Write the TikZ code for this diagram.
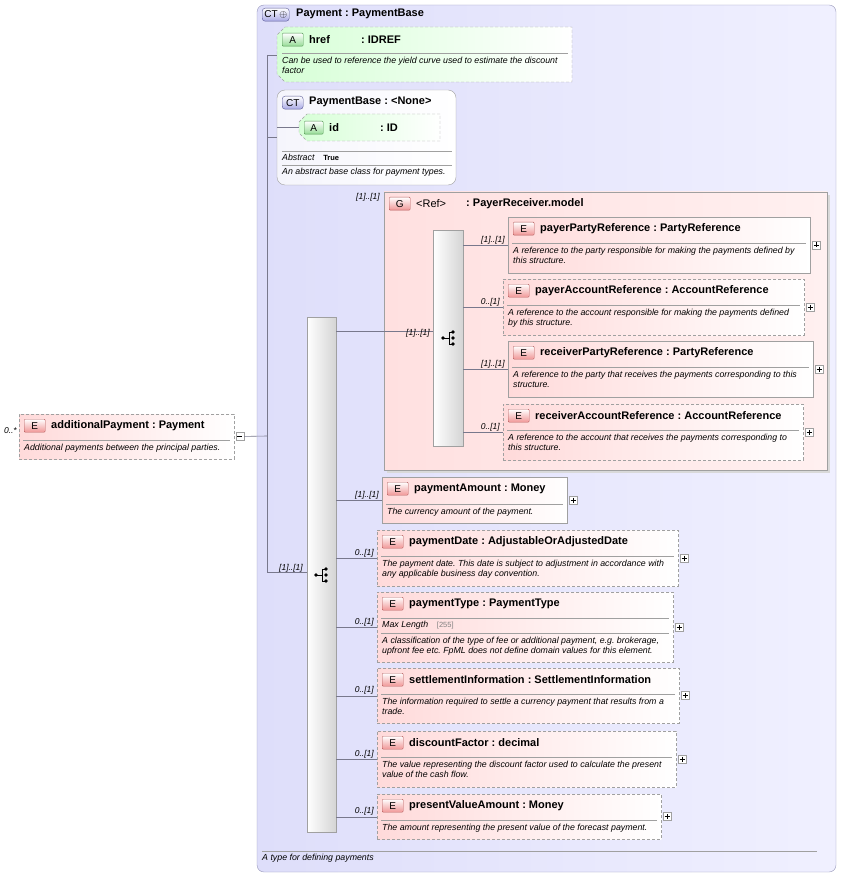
\documentclass[tikz,border=0pt]{standalone}
\usepackage{fontspec}
\setmainfont{Liberation Sans}
\usepackage{tikz}
\frenchspacing

% colours
\definecolor{ctfill}{RGB}{222,222,250}
\definecolor{ctline}{RGB}{150,150,185}
\definecolor{epink}{RGB}{255,218,218}
\definecolor{grppink}{RGB}{255,224,224}
\definecolor{agreen}{RGB}{214,255,214}
\definecolor{seqgray}{RGB}{212,212,212}
\definecolor{boxline}{RGB}{160,160,160}

\tikzset{
  box/.style={draw=boxline, line width=0.8pt, inner sep=0pt, anchor=north west,
    left color=epink, right color=white},
  opt/.style={box, dashed, dash pattern=on 3pt off 2pt},
  badge/.style={draw={rgb,255:red,180;green,90;blue,90}, rounded corners=1pt,
    top color=white, bottom color={rgb,255:red,240;green,150;blue,150},
    minimum width=21pt, minimum height=13pt, inner sep=0pt, anchor=north west,
    font=\fontsize{10}{10}\selectfont},
  abadge/.style={badge, draw={rgb,255:red,80;green,150;blue,80},
    bottom color={rgb,255:red,150;green,220;blue,150}},
  ctbadge/.style={badge, draw={rgb,255:red,90;green,90;blue,150},
    bottom color={rgb,255:red,170;green,170;blue,230}, rounded corners=3pt},
  title/.style={anchor=west, inner sep=0pt, font=\fontsize{11}{11}\selectfont\bfseries},
  desc/.style={anchor=north west, inner sep=0pt, align=left,
    font=\fontsize{8.8}{10}\selectfont\itshape},
  card/.style={anchor=base east, inner sep=0pt, font=\fontsize{8.5}{9}\selectfont\itshape},
  plus/.style={draw=boxline, fill=white, minimum size=8pt, inner sep=0pt},
  sep/.style={draw=boxline, line width=0.6pt},
  conn/.style={draw={rgb,255:red,120;green,120;blue,140}, line width=0.6pt},
}

% element box: name, x1, y1, x2, y2, style, title, line of separator, description
\newcommand{\xsdelem}[9]{%
  \node[#6, minimum width={#4-#2}, minimum height={#5-#3}] (#1) at (#2,#3) {};
  \node[badge] (#1b) at ({#2+5},{#3+5}) {E};
  \node[title] (#1t) at ({#2+32},{#3+11.5}) {#7};
  \draw[sep] ({#2+4},{#3+#8}) -- ({#4-4},{#3+#8});
  \node[desc] (#1d) at ({#2+5},{#3+#8+4}) {#9};
  \node[plus] (#1p) at ({#4+6},{#3/2+#5/2}) {};
  \draw ([xshift=-2.5pt]#1p.center) -- ([xshift=2.5pt]#1p.center)
        ([yshift=-2.5pt]#1p.center) -- ([yshift=2.5pt]#1p.center);
}

% sequence symbol
\newcommand{\seqsym}[2]{%
  \fill (#1-6,#2) circle (1.8);
  \draw[line width=0.8pt] (#1-6,#2) -- (#1,#2) (#1,#2-6) -- (#1,#2+6)
    (#1,#2-6) -- (#1+4,#2-6) (#1,#2+6) -- (#1+4,#2+6);
  \fill (#1+4,#2-6) circle (1.8) (#1+4,#2) circle (1.8) (#1+4,#2+6) circle (1.8);
}

\begin{document}
\begin{tikzpicture}[x=1pt,y=1pt,yscale=-1]
\useasboundingbox (0,0) rectangle (840,874);

%Complex type Payment
\draw[draw=ctline, rounded corners=7pt, left color=ctfill, right color={rgb,255:red,240;green,240;blue,255}]
  (257,5) rectangle (836,872);
\node[ctbadge, minimum width=27pt] (ctpay) at (262,8) {CT\,$\oplus$};
\node[title] (ctpayt) at (296,13.5) {Payment : PaymentBase};
\draw[sep] (262,851) -- (817,851);
\node[desc] (ctpayd) at (262,854) {A type for defining payments};

%Attribute href
\draw[draw=boxline, dashed, dash pattern=on 3pt off 2pt, left color=agreen, right color=white]
  (285,27) -- (572,27) -- (572,82) -- (285,82) -- (277,74) -- (277,35) -- cycle;
\coordinate (href) at (277,55);
\node[abadge] (hrefb) at (282,33) {A};
\node[title] (hreft) at (309,39.5) {href};
\node[title] at (361,39.5) {: IDREF};
\draw[sep] (282,53) -- (568,53);
\node[desc] (hrefd) at (282,57) {Can be used to reference the yield curve used to estimate the discount\\factor};

%Complex type PaymentBase
\draw[draw=boxline, rounded corners=8pt, left color={rgb,255:red,245;green,245;blue,252}, right color=white]
  (277,90) rectangle (456,185);
\coordinate (pbase) at (277,137);
\node[ctbadge] (pbaseb) at (282,96) {CT};
\node[title] (pbaset) at (309,102) {PaymentBase : <None>};
\draw[draw=boxline, dashed, dash pattern=on 3pt off 2pt, left color=agreen, right color=white]
  (307,114) -- (440,114) -- (440,141) -- (307,141) -- (299,133) -- (299,122) -- cycle;
\coordinate (idattr) at (299,127);
\node[abadge, minimum width=19pt] (idb) at (304,121) {A};
\node[title] (idt) at (329,127.5) {id};
\node[title] at (380,127.5) {: ID};
\draw[sep] (282,151) -- (452,151);
\node[desc] (abs) at (282,154) {Abstract\quad\upshape\bfseries\fontsize{7.5}{9}\selectfont True};
\draw[sep] (282,165) -- (452,165);
\node[desc] (pbased) at (282,168) {An abstract base class for payment types.};

%Element additionalPayment
\xsdelem{addpay}{19}{414}{234}{459}{opt}{additionalPayment : Payment}{26}{Additional payments between the principal parties.}
\node[plus] at (addpayp) {};
\draw (addpayp.west) ++(1.5pt,0) -- ++(5pt,0);
\node[card] at (17,433) {0..*};

%Outer sequence
\node[draw=boxline, left color=white, right color=seqgray, minimum width=29pt,
  minimum height=515pt, anchor=north west] (seq) at (307,317) {};
\seqsym{322}{575}
\coordinate (trunk) at (267,436);
\draw[conn] (addpayp) -- (trunk);
\draw[conn] (267,55) -- (267,572) -- (seq.west |- 0,572);
\draw[conn] (267,55) -- (href);
\draw[conn] (267,137) -- (pbase);
\draw[conn] (277,127) -- (idattr);
\node[card] at (303,570) {[1]..[1]};

%Group PayerReceiver.model
\fill[black!15] (387,195) rectangle (830,473);
\draw[draw=boxline, left color=grppink, right color={rgb,255:red,255;green,240;blue,240}]
  (384,192) rectangle (827,470);
\node[badge] (grpb) at (389,197) {G};
\node[title, font=\fontsize{11}{11}\selectfont] (grpt) at (416,203.5) {<Ref>};
\node[title] at (466,203.5) {: PayerReceiver.model};
\node[card] at (380,200) {[1]..[1]};
\node[draw=boxline, left color=white, right color=seqgray, minimum width=30pt,
  minimum height=216pt, anchor=north west] (iseq) at (433,230) {};
\seqsym{449}{338}
\draw[conn] (seq.east |- 0,331) -- (iseq.west |- 0,331);
\node[card] at (430,335) {[1]..[1]};

\xsdelem{ppr}{508}{217}{810}{273}{box}{payerPartyReference : PartyReference}{26}{A reference to the party responsible for making the payments defined by\\this structure.}
\xsdelem{par}{503}{279}{804}{335}{opt}{payerAccountReference : AccountReference}{26}{A reference to the account responsible for making the payments defined\\by this structure.}
\xsdelem{rpr}{508}{341}{813}{397}{box}{receiverPartyReference : PartyReference}{26}{A reference to the party that receives the payments corresponding to this\\structure.}
\xsdelem{rar}{503}{404}{803}{460}{opt}{receiverAccountReference : AccountReference}{26}{A reference to the account that receives the payments corresponding to\\this structure.}
\foreach \e/\c in {ppr/{[1]..[1]}, par/{0..[1]}, rpr/{[1]..[1]}, rar/{0..[1]}} {
  \draw[conn] (iseq.east |- \e.west) -- (\e.west);
  \node[card] at ([xshift=-3pt,yshift=-3pt]\e.west) {\c};
}

%Elements of the outer sequence
\xsdelem{pam}{382}{477}{567}{523}{box}{paymentAmount : Money}{27}{The currency amount of the payment.}
\xsdelem{pdt}{377}{530}{678}{586}{opt}{paymentDate : AdjustableOrAdjustedDate}{26}{The payment date. This date is subject to adjustment in accordance with\\any applicable business day convention.}
\xsdelem{pty}{377}{592}{673}{662}{opt}{paymentType : PaymentType}{41}{A classification of the type of fee or additional payment, e.g. brokerage,\\upfront fee etc. FpML does not define domain values for this element.}
\draw[sep] (381,618) -- (669,618);
\node[desc] (ptyml) at (382,621) {Max Length\quad\upshape\fontsize{7.5}{9}\selectfont\color{gray}[255]};
\xsdelem{sti}{377}{668}{679}{723}{opt}{settlementInformation : SettlementInformation}{26}{The information required to settle a currency payment that results from a\\trade.}
\xsdelem{dsf}{377}{731}{676}{787}{opt}{discountFactor : decimal}{26}{The value representing the discount factor used to calculate the present\\value of the cash flow.}
\xsdelem{pva}{377}{794}{661}{839}{opt}{presentValueAmount : Money}{26}{The amount representing the present value of the forecast payment.}
\foreach \e/\c in {pam/{[1]..[1]}, pdt/{0..[1]}, pty/{0..[1]}, sti/{0..[1]}, dsf/{0..[1]}, pva/{0..[1]}} {
  \draw[conn] (seq.east |- \e.west) -- (\e.west);
  \node[card] at ([xshift=-3pt,yshift=-3pt]\e.west) {\c};
}

\end{tikzpicture}
\end{document}
